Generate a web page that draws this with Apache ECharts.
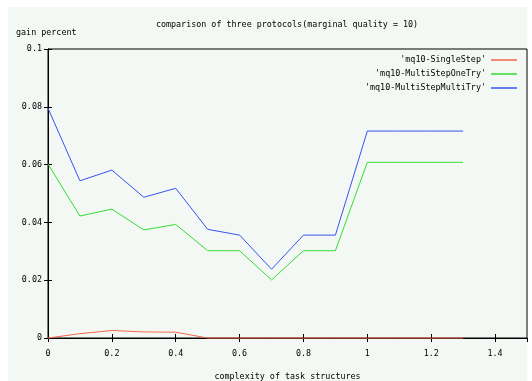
<!DOCTYPE html>
<html>
<head>
<meta charset="utf-8">
<script src="https://cdn.jsdelivr.net/npm/echarts@6/dist/echarts.min.js"></script>
<style>
	html, body { margin: 0; padding: 0; background: #fff; }
	#chart { width: 532px; height: 381px; }
</style>
</head>
<body>
<div id="chart"></div>
<script>
// complexity values (x)
const complexity = [0, 0.1, 0.2, 0.3, 0.4, 0.5, 0.6, 0.7, 0.8, 0.9, 1.0, 1.1, 1.2, 1.3]
// gain percent for each protocol
const singleStep = [0, 0.0015, 0.0026, 0.0021, 0.002, 0, 0, 0, 0, 0, 0, 0, 0, 0]
const multiStepOneTry = [0.0602, 0.0422, 0.0446, 0.0374, 0.0393, 0.0302, 0.0302, 0.0201, 0.0302, 0.0302, 0.0608, 0.0608, 0.0608, 0.0608]
const multiStepMultiTry = [0.0795, 0.0544, 0.0581, 0.0487, 0.0518, 0.0376, 0.0356, 0.0238, 0.0356, 0.0356, 0.0716, 0.0716, 0.0716, 0.0716]
const seriesNames = ["'mq10-SingleStep'", "'mq10-MultiStepOneTry'", "'mq10-MultiStepMultiTry'"]

const font = 'DejaVu Sans Mono'
const pairs = (ys) => complexity.map((x, i) => [x, ys[i]])

const chart = echarts.init(document.getElementById('chart'))

// 公共线条配置
const lineSeries = (name, data, color) => ({
	type: 'line',
	name: name,
	data: pairs(data),
	symbol: 'none',
	clip: false,
	lineStyle: { color: color, width: 1 },
	itemStyle: { color: color },
	emphasis: { disabled: true },
	z: 3,
})

const option = {
	animation: false,
	backgroundColor: '#ffffff',
	textStyle: { fontFamily: font, fontSize: 8.4, color: '#000' },
	graphic: [
		{
			type: 'rect',
			z: -100,
			silent: true,
			shape: { x: 8, y: 7, width: 519, height: 374 },
			style: { fill: '#f4f8f4' },
		},
		{
			type: 'text',
			left: 16,
			top: 29,
			style: { text: 'gain percent', font: '8.4px "DejaVu Sans Mono"', fill: '#000' },
		},
	],
	title: {
		text: 'comparison of three protocols(marginal quality = 10)',
		left: 287,
		textAlign: 'center',
		top: 21,
		padding: 0,
		textStyle: { fontFamily: font, fontSize: 8.4, fontWeight: 'normal', color: '#000' },
	},
	grid: {
		left: 48,
		right: 5,
		top: 49,
		bottom: 43,
		outerBoundsMode: 'none',
		show: true,
		borderColor: '#000',
		borderWidth: 1,
		backgroundColor: 'transparent',
	},
	legend: {
		orient: 'vertical',
		right: 15,
		top: 56,
		align: 'right',
		icon: 'rect',
		itemWidth: 26,
		itemHeight: 1.5,
		itemGap: 6,
		padding: 0,
		selectedMode: false,
		textStyle: { fontFamily: font, fontSize: 8.4, color: '#000' },
		data: seriesNames,
	},
	xAxis: [
		{
			type: 'value',
			min: 0,
			max: 1.5,
			interval: 0.2,
			name: 'complexity of task structures',
			nameLocation: 'middle',
			nameGap: 35,
			nameTextStyle: { fontFamily: font, fontSize: 8.4, color: '#000' },
			axisLine: { show: true, lineStyle: { color: '#000', width: 1 } },
			axisTick: { show: true, inside: true, length: 4, lineStyle: { color: '#000' } },
			axisLabel: { color: '#000', fontFamily: font, fontSize: 8.4, margin: 12, showMaxLabel: false },
			splitLine: { show: false },
		},
		{
			type: 'value',
			position: 'top',
			min: 0,
			max: 1.5,
			interval: 0.2,
			axisLine: { show: true, lineStyle: { color: '#000', width: 1 } },
			axisTick: { show: true, inside: true, length: 4, lineStyle: { color: '#000' } },
			axisLabel: { show: false },
			splitLine: { show: false },
		},
	],
	yAxis: [
		{
			type: 'value',
			min: 0,
			max: 0.1,
			interval: 0.02,
			axisLine: { show: true, lineStyle: { color: '#000', width: 1 } },
			axisTick: { show: true, inside: true, length: 4, lineStyle: { color: '#000' } },
			axisLabel: { color: '#000', fontFamily: font, fontSize: 8.4, margin: 6 },
			splitLine: { show: false },
		},
		{
			type: 'value',
			position: 'right',
			min: 0,
			max: 0.1,
			interval: 0.02,
			axisLine: { show: true, lineStyle: { color: '#000', width: 1 } },
			axisTick: { show: true, inside: true, length: 4, lineStyle: { color: '#000' } },
			axisLabel: { show: false },
			splitLine: { show: false },
		},
	],
	series: [
		lineSeries(seriesNames[0], singleStep, '#f5674a'),
		lineSeries(seriesNames[1], multiStepOneTry, '#33dd33'),
		lineSeries(seriesNames[2], multiStepMultiTry, '#3355ee'),
	],
}
chart.setOption(option)
</script>
</body>
</html>
